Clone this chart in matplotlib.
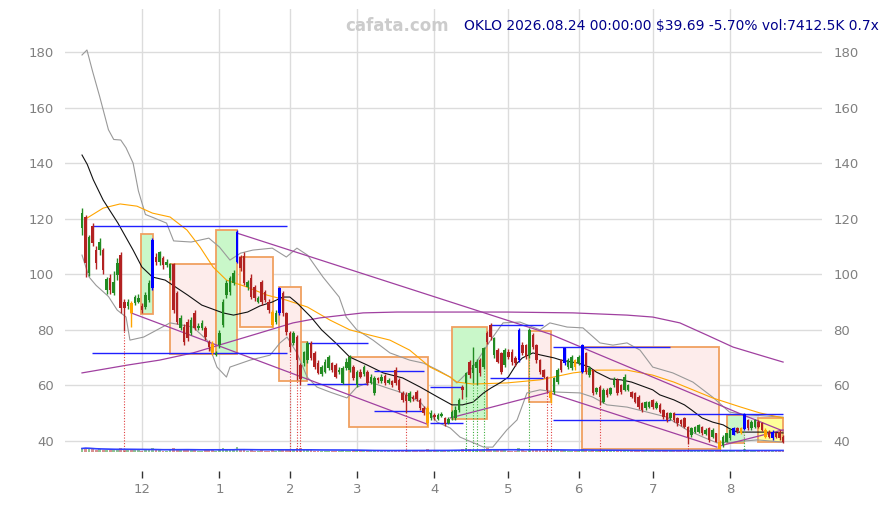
import numpy as np
import pandas as pd
import matplotlib
matplotlib.use("Agg")
import matplotlib.pyplot as plt
from matplotlib.patches import Rectangle

# ---------------- data ----------------
holidays = ['2025-11-27', '2025-12-25', '2026-01-01', '2026-01-19', '2026-02-16',
            '2026-04-03', '2026-05-25', '2026-06-19', '2026-07-03']
dates = pd.bdate_range('2025-11-05', '2026-08-24')
dates = dates[~dates.isin(pd.to_datetime(holidays))]

opens = [116.6,120.7,100.3,117.4,108.7,108.7,108.7,94.3,98.7,93.4,
         99.7,106.9,90.1,88.5,89.8,89.7,90.0,88.6,88.3,90.7,
         95.0,106.3,104.5,105.9,103.5,98.7,103.7,93.3,80.7,81.0,
         82.8,78.9,86.0,80.7,80.7,80.7,75.6,75.0,70.8,74.5,
         81.7,92.5,93.6,96.9,104.4,106.2,106.5,95.4,98.7,95.4,
         90.0,97.3,93.6,90.0,86.4,82.8,86.0,93.3,86.0,78.9,
         75.3,77.4,67.3,68.0,69.1,75.3,71.7,68.0,64.1,65.0,
         66.3,68.0,67.3,64.8,60.9,66.3,65.5,66.6,60.2,65.0,
         64.0,64.8,61.0,57.3,62.5,61.5,63.3,61.0,61.5,65.5,
         62.0,57.3,56.6,54.5,56.0,57.7,54.7,52.0,51.9,48.3,
         49.5,48.0,49.0,48.3,46.5,48.1,48.1,51.1,59.5,60.7,
         68.5,64.3,66.1,69.1,66.7,78.7,81.7,70.9,72.7,71.5,
         67.3,72.1,72.1,69.7,69.0,74.5,74.5,71.0,78.1,74.5,
         69.1,65.5,63.1,57.7,57.7,61.3,69.1,67.9,66.7,66.1,
         69.1,67.9,65.0,71.5,63.7,65.5,57.7,59.5,54.1,58.3,
         57.0,60.1,62.0,60.1,58.3,58.3,57.7,57.1,56.0,53.5,
         51.7,52.3,54.7,52.0,53.0,51.1,49.9,48.2,50.0,48.1,
         47.5,48.1,45.2,42.2,43.3,43.3,45.2,42.5,44.5,41.5,
         42.7,39.8,38.5,39.8,40.9,42.2,44.5,43.0,44.2,47.5,
         44.5,44.9,47.0,46.3,44.0,43.3,41.0,42.7,43.3,41.5]
closes = [122.0,104.0,113.5,111.1,104.0,111.7,101.5,98.3,94.3,97.3,
          104.2,87.8,87.8,90.0,86.0,91.8,91.5,87.0,92.5,96.9,
          112.3,104.5,108.0,103.3,104.5,103.7,87.1,82.8,84.3,75.6,
          77.0,83.5,80.7,81.5,82.5,77.4,73.8,71.7,71.8,78.9,
          90.0,96.9,98.7,100.4,115.2,102.2,97.0,97.3,91.8,91.5,
          91.5,90.0,90.7,87.1,81.7,86.0,95.0,86.0,79.2,73.8,
          78.9,69.1,62.3,72.0,75.3,69.8,66.6,64.5,66.6,68.5,
          70.2,65.5,63.0,65.6,66.3,68.5,70.2,62.7,64.8,63.0,
          66.6,60.9,63.0,62.7,61.8,63.0,60.9,61.8,60.0,60.9,
          58.3,54.7,54.5,57.3,55.0,55.0,51.9,50.0,46.5,50.0,
          48.5,49.3,49.8,46.2,47.8,50.5,51.1,54.7,58.3,64.3,
          63.7,67.3,68.5,64.3,73.3,75.7,77.5,76.9,68.5,64.9,
          72.7,70.3,68.5,67.9,80.0,71.5,70.3,80.0,73.9,69.1,
          64.9,63.1,58.3,55.3,62.5,65.5,65.5,73.3,69.1,70.3,
          66.7,70.3,74.5,65.0,66.1,57.1,58.9,55.9,58.3,56.5,
          59.0,62.0,57.1,57.7,63.1,60.1,55.9,54.1,52.3,51.1,
          54.1,54.1,52.3,53.8,50.5,48.7,47.5,50.0,47.5,46.3,
          46.0,45.2,41.5,44.5,45.1,45.7,42.8,44.0,40.3,43.9,
          39.8,37.0,41.5,42.7,43.9,44.5,43.5,44.5,49.7,44.5,
          47.0,47.5,45.2,44.0,41.5,41.5,43.3,41.5,41.0,39.7]
highs = [124,121.5,114,118.4,110,113,109.5,99,100,101,
         106,108,91,91,90.5,92.5,93,89.5,93.5,98,
         113,107.5,108.5,106.5,105.5,104,104,94,85.5,82,
         84,84.5,87,82.5,83.5,81.5,76.5,76,72.5,80,
         91,98,99.5,101.5,116,107,108,98,100,96,
         92,98,94.5,91,87,87,95.5,94,86.5,79.5,
         79.5,78,68,72.5,76,76,72.5,69,67.5,69.5,
         71,68.5,68,66.5,67,70,71,67.5,65.5,66,
         67.5,65.5,64,63.5,63,64,64,62.5,62,66.5,
         62.5,58,57.5,58,56.5,58.5,55.5,52.5,52.5,51,
         50,50,50.5,48.8,48.5,51,52.5,55.5,60,65,
         69,74,69.5,70,74,79.5,82.5,77.5,73.5,72,
         73.5,73,73,70.5,80.5,75.5,75,80.5,79,75,
         69.5,66,63.5,58.5,63.1,66.1,69.5,73.5,70,71,
         69.5,71,75,72,67,66,59.5,60,59,59,
         59.5,63,62.5,60.5,64,60.5,58,57.5,56.5,54,
         54.5,54.5,55,54.5,53.5,51.5,50.5,50.5,50.5,48.5,
         48,48.5,45.5,45,45.5,46,45.5,44.5,45,44.5,
         43,40.5,42,43,44.5,45,45,45,50,48,
         47.5,48,47.5,46.8,44.5,43.8,43.8,43,43.8,42]
lows = [114,99,99.5,110,102,107,100,93,93,92.5,
        98,86,79.7,87.5,81,89,89.5,86,87.5,90,
        94.5,103.5,103.5,102,102.5,98,86,82,80,74.5,
        76,78,80,80,80,76.5,72.5,70.8,70.5,73.5,
        81,91.5,92.5,96,104,101,96,94.5,91,90.5,
        89.5,89,90,86,81,82,85.5,85,78,72,
        74.5,62,60,67,68,69,66,64,63.5,64.5,
        65.5,65,62.5,64,60.5,65.5,65,62,59.5,62.5,
        63.5,60,60.5,56.5,61,61,60,60.5,59.5,60,
        57.5,54,50,54,54.5,54.5,51,49.5,45.5,47.5,
        47.5,47.5,48.5,45.5,46,47.5,47.5,50.5,55,56,
        62.5,61,60,63.5,66,75,76.5,70,68,64,
        66.5,69.5,67.5,67,68.5,71,69.5,70,73,68,
        64,62.5,57.5,53.5,57,60.5,65,67.5,66,65.5,
        65.5,67.5,64.5,64,63,56.5,57,53,53.5,56,
        56.5,59.5,56.5,57,58,58,55.5,53.5,51.5,50.5,
        51,52,51.5,51.5,50,48,47,47.5,47,45.5,
        45.5,44.5,39,41.5,43,43,42.3,42,39.8,41,
        39.5,36.8,38,39.5,40.5,42,43,42.5,44,44,
        44,44.5,44.8,43.5,41,41,40.5,41,40.5,39.2]
volumes = [5,6,5,4,3,4,3,3,3,3, 3,5,4,3,3,3,3,2,3,3,
           6,3,3,2,2,3,5,4,3,4, 3,3,3,2,2,3,3,3,2,3,
           5,4,3,3,7,4,4,2,3,2, 2,3,2,2,3,2,4,3,3,4,
           3,5,5,3,3,3,2,2,2,2, 2,2,2,2,3,2,2,3,2,2,
           2,2,2,2,2,2,2,2,2,2, 2,3,3,2,2,2,3,2,4,2,
           2,2,2,2,2,3,3,3,4,5, 4,3,3,3,4,5,4,3,3,3,
           3,2,2,2,5,3,2,4,3,3, 3,2,3,3,3,3,3,3,2,2,
           2,2,4,3,2,3,2,3,2,2, 2,2,2,2,3,2,2,2,2,2,
           2,2,2,2,2,2,2,2,2,2, 2,2,3,2,2,2,2,2,2,2,
           2,3,2,2,2,2,2,2,4,2, 2,2,2,2,2,2,2,2,2,2]

blue_idx = [20, 44, 56, 124, 137, 142, 185, 188, 196]
orange_idx = [14, 37, 54, 98, 133, 140, 181, 187, 194]

# indicator lines (trading-day index, value)
black_i = [0,1.5,3.2,6,10.2,14.5,17,20,23.6,30,34,40,43,47,50.5,54,57,59,61,65,68,72,76,81,85.5,91,96,101,105,
           108,111,114,116,119,121,123.5,125,128,130,134,136,139,141,144,146,150,153,156,159,162,164,168,171,
           173,176,179,182,184,186,190,194,199]
black_v = [142.9,139.5,134,126.7,118.4,108.7,102.6,99,97.9,92.5,88.9,86.1,85.3,86.4,88.6,90,91.8,91.8,89.7,
           84.6,80,75.3,70.2,67.3,64.5,62.7,59.4,55.8,53,53,54,57.3,59,61.2,63,68,69.9,71.7,71,69.9,69.1,68.4,
           68,66.6,64.8,62.3,62,61.2,59.8,58.4,56.6,54.8,53,51.2,48.3,46.8,45.8,44.3,43.2,43.2,43.2,42.9]
orange_i = [1.4,6,10.8,15.6,20,25,29.8,33.5,37.2,41,46.8,52.5,58,64,70.4,76,81.7,87.4,93,98.8,
            104.5,106.4,111,120.6,130,139.4,146,154.7,162,168,173.4,179,187,192.4,199]
orange_v = [120.2,123.8,125.3,124.5,122,120.6,115.9,109.8,102.6,97.9,95.4,92.5,90.7,88.2,83.5,80,78.1,
            76.3,72.7,66.6,63,61.2,60.5,60.9,62,64.5,65.5,65.5,63.7,61.2,58.4,55.5,52.2,50.1,48.3]
upper_i = [0,1.4,3,5,7.5,9,11,12.5,14.5,16,18,20,24,26,31,36,39,42,45,48.5,54,58,61,64,68.4,73,75,78,
           82.6,87.4,93,97,101,104.5,106.4,111,116,119.5,124.3,130,132.8,137.7,142.2,147,150.7,154.7,
           158.4,162,167.7,173.4,179,183.8,188.8,199]
upper_v = [178.9,180.7,173,164,152,148.5,148.3,145.5,140,130,121.5,120.5,118.4,112,111.6,113,109.8,
           105.1,107.6,108.7,109.4,106.2,109.4,106.9,99,91.8,84.6,80,76.3,71.7,69.1,68,65.5,63,60.9,
           66.6,76.3,82.5,82.8,80,82.5,81,80.7,75.3,74.5,75.3,72.7,66.6,64.5,61.2,55.8,50.4,49.4,48.6]
lower_i = [0,2,4,7.5,10,12.5,13.6,17.5,25,31.5,35.5,38.3,41,42,47.7,53.4,56.2,58.2,61,63.9,66.7,70.4,
           75.2,78,81.7,86.6,91,96,100.8,104.5,107.3,114,116.6,120.6,123.5,126.3,130,134.8,141.4,145,
           149,154.7,160.4,166,171.7,176.3,180.3,184.8,191.6,199]
lower_v = [106.9,99,96,92,87.1,84.6,76.3,77.4,82.5,81,76.3,66.6,63,66.6,69.1,70.9,75.3,77.4,71.7,63,
           59.4,57.6,55.5,59.4,61.2,59.1,57.3,54,46.8,44.7,41.4,37.8,37.8,44,47.6,57.3,58.4,57.6,57.3,
           55.8,53,52.2,50.4,48.6,44,41.4,39.3,39.6,40.4,39.6]
sma_i = [0,12.8,22,31.5,41,50.5,59.9,67.5,79.8,89.4,98.8,120.6,139.4,154.7,162,169.7,177.4,184.8,192.4,199]
sma_v = [64.5,67.3,69.1,71.7,75.3,78.9,82.5,84.3,86.1,86.4,86.4,86.4,86.1,85.3,84.6,82.5,78.1,73.8,70.9,68.4]

# trend lines (purple)
trend_i = [[44, 132.8, 187.6, 199], [13.9, 97.9], [104.5, 132.8], [132.8, 180.2], [181, 199]]
trend_v = [[114.8, 78.5, 49.4, 43.6], [86.1, 46.1], [48.3, 57.6], [57.3, 37.8], [38.2, 44]]

# horizontal range levels (blue)
lvl_start = [2.8, 2.8, 63.9, 63.9, 82.9, 82.9, 98.8, 98.8, 115.8, 115.8, 133.7, 133.7, 167.8]
lvl_end = [58.2, 58.2, 81.2, 81.2, 97.1, 97.1, 108.1, 108.1, 130.9, 130.9, 166.9, 166.9, 199]
lvl_price = [117.4, 71.7, 75.2, 60.5, 65.2, 50.8, 59.4, 46.5, 81.7, 62.7, 73.8, 47.6, 49.7]

# zones
box_start = [16.7, 25, 38, 44.8, 55.9, 62.2, 75.8, 105, 126.9, 141.9, 183, 187.9, 191.9]
box_end = [20.2, 38, 44, 54.2, 62.2, 63.9, 98.2, 115, 133.1, 180.8, 187.9, 191.9, 199]
box_top = [114.5, 103.7, 116, 106.2, 95.4, 75.6, 70.2, 81, 79.6, 73.8, 49.4, 48.7, 48.3]
box_bot = [85.7, 71.3, 71.3, 81, 61.6, 61.6, 45, 47.9, 54, 37.1, 39.4, 40, 39.7]
box_kind = ['g', 'r', 'g', 'r', 'r', 'g', 'r', 'g', 'r', 'r', 'g', 'n', 'y']

red_marks = [12, 59, 61, 62, 92, 132, 133, 147, 172, 181]
green_marks = [109, 111, 112, 114, 127, 188]

title_text = "OKLO 2026.08.24 00:00:00 $39.69 -5.70% vol:7412.5K 0.7x"
yticks = [40, 60, 80, 100, 120, 140, 160, 180]

# ---------------- plot ----------------
W, H = 887, 505
fig = plt.figure(figsize=(W / 100, H / 100), dpi=100)
rect = [65 / W, 53 / H, 757 / W, 443 / H]
ax = fig.add_axes(rect)
n = len(closes)
x = np.arange(n)
ymin, ymax = 36.04, 195.45
ax.set_xlim(-4.83, 210.05)
ax.set_ylim(ymin, ymax)

for s in ax.spines.values():
    s.set_visible(False)
ax.grid(True, color='#dcdcdc', lw=1.0)
ax.set_axisbelow(True)

# month ticks
mticks, mlabels = [], []
for k in range(1, n):
    if dates[k].month != dates[k - 1].month:
        mticks.append(k)
        mlabels.append(str(dates[k].month))
ax.set_xticks(mticks)
ax.set_xticklabels(mlabels)
ax.spines['bottom'].set_position(('outward', 14))
ax.tick_params(axis='x', length=5, width=1, color='#333333', labelcolor='#808080',
               labelsize=9.5, pad=3)
ax.set_yticks(yticks)
ax.tick_params(axis='y', length=0, labelcolor='#808080', labelsize=9.5, pad=8,
               labelleft=True, labelright=True)

# zones
fills = {'g': '#c9f7c9', 'r': '#fdeceb', 'y': '#ffff99', 'n': '#eeeeee'}
for s0, s1, t, b, k in zip(box_start, box_end, box_top, box_bot, box_kind):
    ax.add_patch(Rectangle((s0, b), s1 - s0, t - b, facecolor=fills[k],
                           edgecolor='#f0a060' if k != 'n' else '#dddddd',
                           lw=1.3, zorder=1))

# indicator lines
ax.plot(upper_i, upper_v, color='#999999', lw=0.8, zorder=2)
ax.plot(lower_i, lower_v, color='#999999', lw=0.8, zorder=2)
ax.plot(orange_i, orange_v, color='#ffa500', lw=0.8, zorder=2)
ax.plot(sma_i, sma_v, color='#a040a0', lw=0.9, zorder=2)
ax.plot(black_i, black_v, color='#111111', lw=0.8, zorder=2)
for ti, tv in zip(trend_i, trend_v):
    ax.plot(ti, tv, color='#a040a0', lw=0.9, zorder=2)
ax.hlines(lvl_price, lvl_start, lvl_end, colors='#2020ff', lw=1.0, zorder=2)

# candles
cols = []
for i in range(n):
    if i in blue_idx:
        cols.append('#0000ff')
    elif i in orange_idx:
        cols.append('#ffa500')
    elif closes[i] >= opens[i]:
        cols.append('#228b22')
    else:
        cols.append('#b22222')
o = np.array(opens); c = np.array(closes)
ax.vlines(x, lows, highs, colors=cols, lw=1.0, zorder=3)
ax.bar(x, np.maximum(np.abs(c - o), 0.3), bottom=np.minimum(o, c), width=0.72,
       color=cols, zorder=4, linewidth=0)

# signal marks
ax.vlines(red_marks, ymin, [lows[i] for i in red_marks], colors='#e04040',
          linestyles=(0, (1, 1.5)), lw=0.8, zorder=2)
ax.vlines(green_marks, ymin, [lows[i] for i in green_marks], colors='#40b040',
          linestyles=(0, (1, 1.5)), lw=0.8, zorder=2)

# volume strip
axv = fig.add_axes(rect, sharex=ax)
axv.patch.set_visible(False)
axv.axis('off')
vol = np.array(volumes, dtype=float)
axv.set_ylim(0, vol.max() * 90)
vcols = ['#228b22' if closes[i] >= opens[i] else '#b22222' for i in range(n)]
axv.bar(x, vol, width=0.8, color=vcols, alpha=0.5, linewidth=0)
axv.plot(x, pd.Series(vol).rolling(20, min_periods=1).mean(), color='#3040ff', lw=1.2)
axv.set_xlim(-4.83, 210.05)

fig.text(397 / W, 1 - 26 / H, 'cafata.com', ha='center', va='center', color='#cccccc',
         fontsize=12, fontweight='bold')
fig.text(879 / W, 1 - 26 / H, title_text, ha='right', va='center', color='#00008b', fontsize=10)

fig.savefig('out.png', dpi=100)
